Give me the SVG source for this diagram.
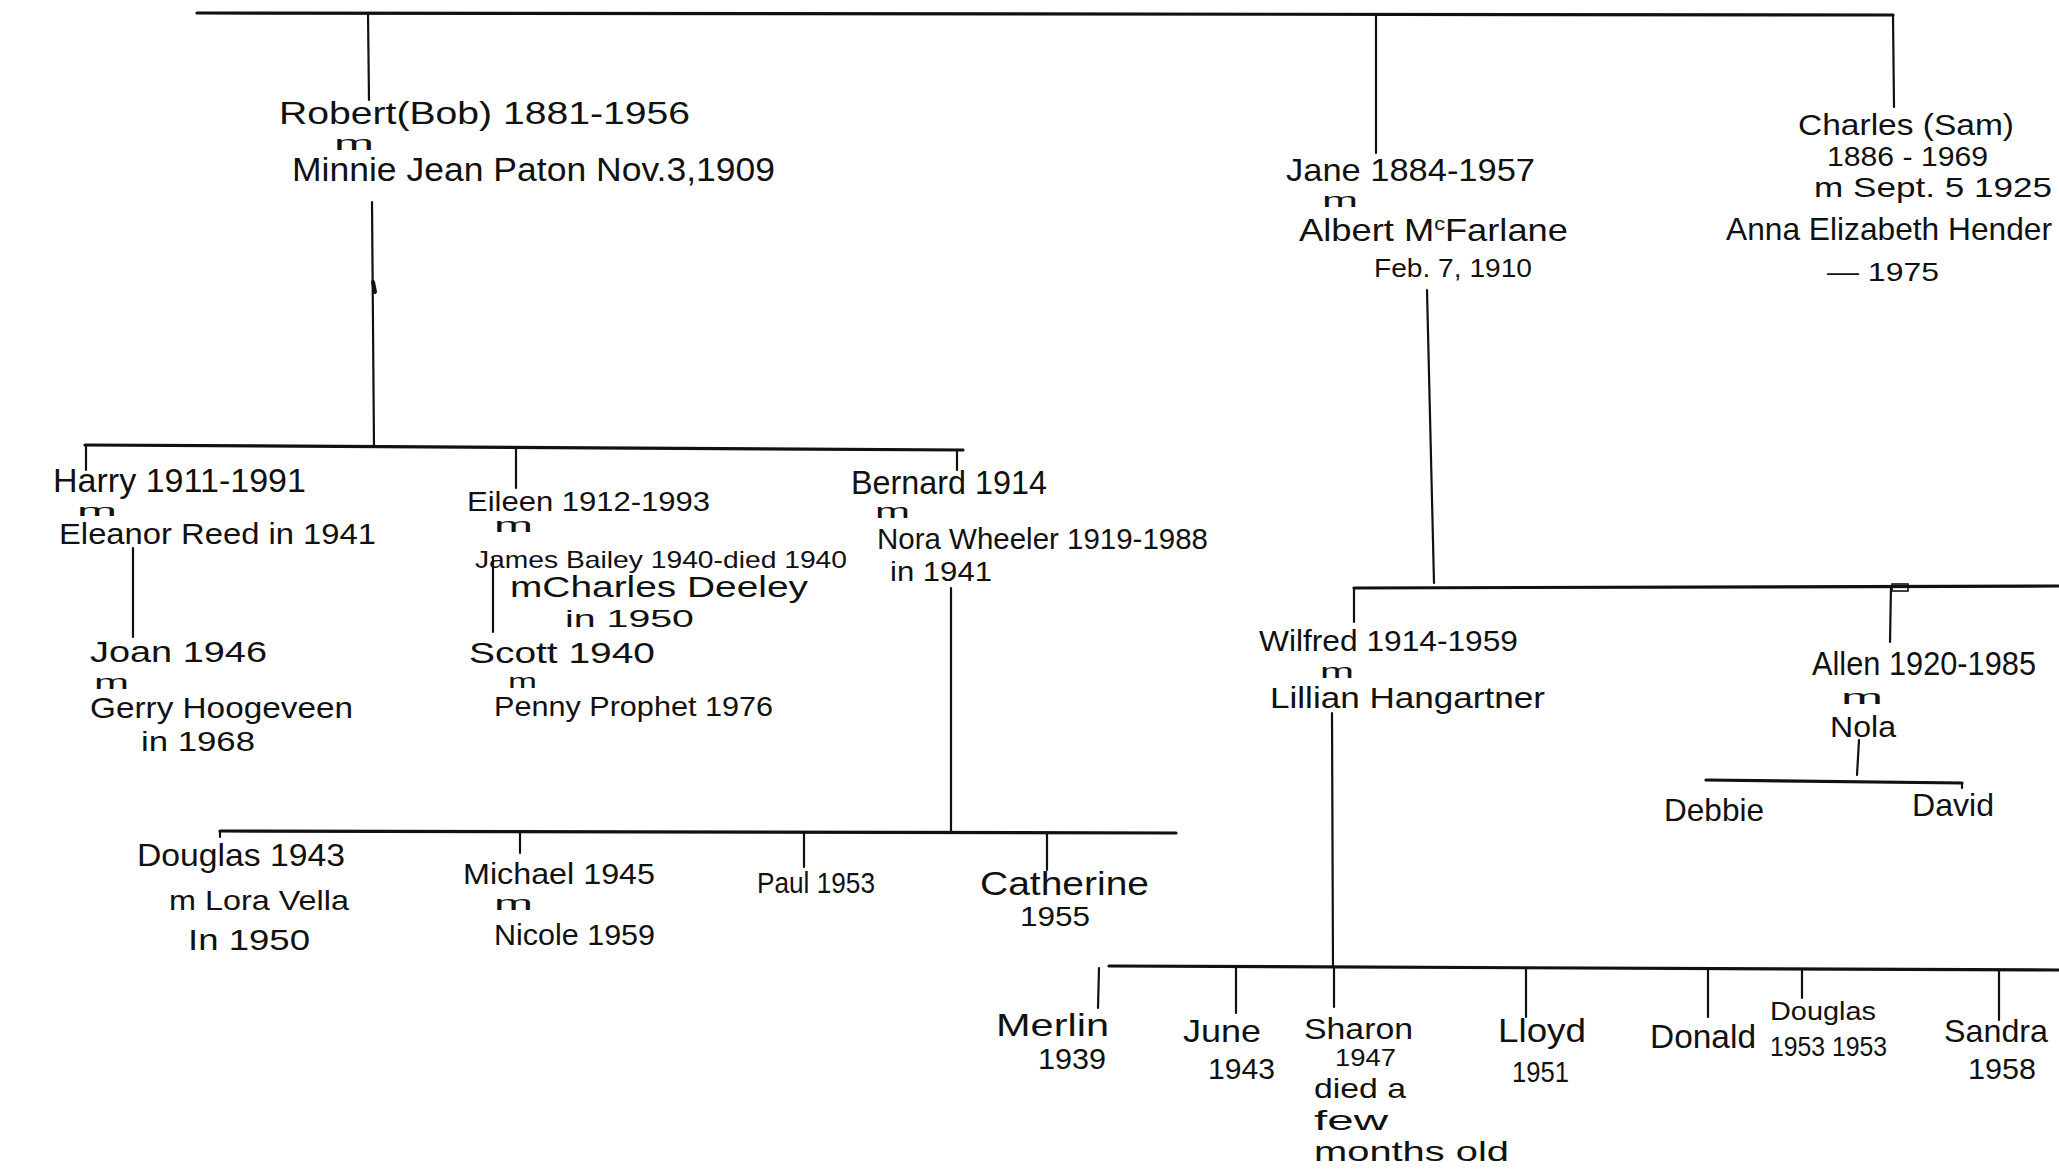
<svg xmlns="http://www.w3.org/2000/svg" width="2059" height="1170" viewBox="0 0 2059 1170">
<style>
text{font-family:"Liberation Sans Narrow","Liberation Sans",Arial,sans-serif;fill:#111;}
.m{font-size:20px;}
.c line,.c path,.c rect{stroke:#111;stroke-width:2.2;fill:none;stroke-linecap:round;}
.c .thick{stroke-width:3.2;}
</style>
<rect x="0" y="0" width="2059" height="1170" fill="#ffffff"/>
<g id="connectors" class="c">
  <line class="thick" x1="197" y1="13" x2="1893" y2="15"/>
  <line x1="368" y1="13" x2="369" y2="100"/>
  <line x1="1376" y1="14" x2="1376" y2="153"/>
  <line x1="1893" y1="15" x2="1894" y2="107"/>
  <line x1="372" y1="202" x2="374" y2="447"/>
  <line x1="373" y1="282" x2="375" y2="292" style="stroke-width:4"/>
  <line class="thick" x1="85" y1="445" x2="963" y2="450"/>
  <line x1="86" y1="445" x2="86" y2="470"/>
  <line x1="516" y1="447" x2="516" y2="488"/>
  <line x1="957" y1="450" x2="957" y2="470"/>
  <line x1="133" y1="548" x2="133" y2="637"/>
  <line x1="493" y1="557" x2="493" y2="632"/>
  <line x1="951" y1="588" x2="951" y2="831"/>
  <line class="thick" x1="220" y1="831" x2="1176" y2="833"/>
  <line x1="220" y1="831" x2="220" y2="837"/>
  <line x1="520" y1="832" x2="520" y2="853"/>
  <line x1="804" y1="833" x2="804" y2="867"/>
  <line x1="1047" y1="833" x2="1047" y2="870"/>
  <line x1="1427" y1="290" x2="1434" y2="583"/>
  <line class="thick" x1="1354" y1="588" x2="2059" y2="586"/>
  <line x1="1354" y1="588" x2="1354" y2="622"/>
  <line x1="1891" y1="586" x2="1890" y2="642"/>
  <rect x="1892" y="584" width="16" height="7" style="stroke-width:1.6"/>
  <line x1="1332" y1="713" x2="1333" y2="967"/>
  <line x1="1859" y1="740" x2="1857" y2="775"/>
  <line class="thick" x1="1706" y1="780" x2="1962" y2="783"/>
  <line x1="1962" y1="783" x2="1962" y2="788"/>
  <line class="thick" x1="1109" y1="966" x2="2059" y2="970"/>
  <line x1="1099" y1="968" x2="1098" y2="1008"/>
  <line x1="1236" y1="968" x2="1236" y2="1013"/>
  <line x1="1334" y1="968" x2="1334" y2="1007"/>
  <line x1="1526" y1="969" x2="1526" y2="1017"/>
  <line x1="1708" y1="969" x2="1708" y2="1017"/>
  <line x1="1802" y1="969" x2="1802" y2="998"/>
  <line x1="1999" y1="970" x2="1999" y2="1020"/>
</g>
<g id="robert">
  <text x="279" y="124" font-size="32" textLength="411" lengthAdjust="spacingAndGlyphs">Robert(Bob) 1881-1956</text>
  <text class="m" x="334" y="150" textLength="40" lengthAdjust="spacingAndGlyphs">m</text>
  <text x="292" y="181" font-size="34" textLength="483" lengthAdjust="spacingAndGlyphs">Minnie Jean Paton Nov.3,1909</text>
</g>
<g id="jane">
  <text x="1286" y="181" font-size="32" textLength="249" lengthAdjust="spacingAndGlyphs">Jane 1884-1957</text>
  <text class="m" x="1322" y="207" textLength="36" lengthAdjust="spacingAndGlyphs">m</text>
  <text x="1299" y="241" font-size="32" textLength="269" lengthAdjust="spacingAndGlyphs">Albert M<tspan font-size="19" dy="-11">c</tspan><tspan dy="11">Farlane</tspan></text>
  <text x="1374" y="277" font-size="26" textLength="158" lengthAdjust="spacingAndGlyphs">Feb. 7, 1910</text>
</g>
<g id="charles">
  <text x="1798" y="135" font-size="30" textLength="216" lengthAdjust="spacingAndGlyphs">Charles (Sam)</text>
  <text x="1827" y="166" font-size="28" textLength="161" lengthAdjust="spacingAndGlyphs">1886 - 1969</text>
  <text x="1814" y="197" font-size="28" textLength="238" lengthAdjust="spacingAndGlyphs">m  Sept. 5 1925</text>
  <text x="1726" y="240" font-size="32" textLength="326" lengthAdjust="spacingAndGlyphs">Anna Elizabeth Hender</text>
  <text x="1827" y="281" font-size="26" textLength="112" lengthAdjust="spacingAndGlyphs">— 1975</text>
</g>
<g id="harry">
  <text x="53" y="492" font-size="34" textLength="253" lengthAdjust="spacingAndGlyphs">Harry 1911-1991</text>
  <text x="77" y="516" font-size="17" textLength="40" lengthAdjust="spacingAndGlyphs">m</text>
  <text x="59" y="544" font-size="30" textLength="317" lengthAdjust="spacingAndGlyphs">Eleanor Reed in 1941</text>
</g>
<g id="joan">
  <text x="90" y="662" font-size="30" textLength="177" lengthAdjust="spacingAndGlyphs">Joan 1946</text>
  <text class="m" x="94" y="689" textLength="35" lengthAdjust="spacingAndGlyphs">m</text>
  <text x="90" y="718" font-size="30" textLength="263" lengthAdjust="spacingAndGlyphs">Gerry Hoogeveen</text>
  <text x="141" y="751" font-size="28" textLength="114" lengthAdjust="spacingAndGlyphs">in 1968</text>
</g>
<g id="eileen">
  <text x="467" y="511" font-size="28" textLength="243" lengthAdjust="spacingAndGlyphs">Eileen 1912-1993</text>
  <text class="m" x="494" y="532" textLength="39" lengthAdjust="spacingAndGlyphs">m</text>
  <text x="475" y="568" font-size="24" textLength="372" lengthAdjust="spacingAndGlyphs">James Bailey 1940-died 1940</text>
  <text x="510" y="597" font-size="30" textLength="298" lengthAdjust="spacingAndGlyphs">mCharles Deeley</text>
  <text x="565" y="627" font-size="24" textLength="129" lengthAdjust="spacingAndGlyphs">in 1950</text>
</g>
<g id="scott">
  <text x="469" y="663" font-size="30" textLength="186" lengthAdjust="spacingAndGlyphs">Scott 1940</text>
  <text class="m" x="508" y="688" textLength="29" lengthAdjust="spacingAndGlyphs">m</text>
  <text x="494" y="716" font-size="28" textLength="279" lengthAdjust="spacingAndGlyphs">Penny Prophet 1976</text>
</g>
<g id="bernard">
  <text x="851" y="494" font-size="34" textLength="196" lengthAdjust="spacingAndGlyphs">Bernard 1914</text>
  <text class="m" x="875" y="518" textLength="35" lengthAdjust="spacingAndGlyphs">m</text>
  <text x="877" y="549" font-size="30" textLength="331" lengthAdjust="spacingAndGlyphs">Nora Wheeler 1919-1988</text>
  <text x="890" y="581" font-size="28" textLength="102" lengthAdjust="spacingAndGlyphs">in 1941</text>
</g>
<g id="douglas1943">
  <text x="137" y="866" font-size="32" textLength="208" lengthAdjust="spacingAndGlyphs">Douglas 1943</text>
  <text x="169" y="910" font-size="28" textLength="180" lengthAdjust="spacingAndGlyphs">m Lora Vella</text>
  <text x="188" y="950" font-size="30" textLength="122" lengthAdjust="spacingAndGlyphs">In 1950</text>
</g>
<g id="michael">
  <text x="463" y="884" font-size="30" textLength="192" lengthAdjust="spacingAndGlyphs">Michael 1945</text>
  <text class="m" x="494" y="910" textLength="39" lengthAdjust="spacingAndGlyphs">m</text>
  <text x="494" y="945" font-size="30" textLength="161" lengthAdjust="spacingAndGlyphs">Nicole 1959</text>
</g>
<g id="paul">
  <text x="757" y="893" font-size="30" textLength="118" lengthAdjust="spacingAndGlyphs">Paul 1953</text>
</g>
<g id="catherine">
  <text x="980" y="895" font-size="34" textLength="169" lengthAdjust="spacingAndGlyphs">Catherine</text>
  <text x="1020" y="926" font-size="28" textLength="70" lengthAdjust="spacingAndGlyphs">1955</text>
</g>
<g id="wilfred">
  <text x="1259" y="651" font-size="30" textLength="259" lengthAdjust="spacingAndGlyphs">Wilfred 1914-1959</text>
  <text class="m" x="1320" y="678" textLength="34" lengthAdjust="spacingAndGlyphs">m</text>
  <text x="1270" y="708" font-size="30" textLength="275" lengthAdjust="spacingAndGlyphs">Lillian Hangartner</text>
</g>
<g id="allen">
  <text x="1812" y="675" font-size="34" textLength="224" lengthAdjust="spacingAndGlyphs">Allen 1920-1985</text>
  <text class="m" x="1841" y="704" textLength="42" lengthAdjust="spacingAndGlyphs">m</text>
  <text x="1830" y="737" font-size="30" textLength="66" lengthAdjust="spacingAndGlyphs">Nola</text>
</g>
<g id="debbie"><text x="1664" y="821" font-size="32" textLength="100" lengthAdjust="spacingAndGlyphs">Debbie</text></g>
<g id="david"><text x="1912" y="816" font-size="32" textLength="82" lengthAdjust="spacingAndGlyphs">David</text></g>
<g id="merlin">
  <text x="996" y="1036" font-size="32" textLength="113" lengthAdjust="spacingAndGlyphs">Merlin</text>
  <text x="1038" y="1069" font-size="30" textLength="68" lengthAdjust="spacingAndGlyphs">1939</text>
</g>
<g id="june">
  <text x="1183" y="1042" font-size="32" textLength="78" lengthAdjust="spacingAndGlyphs">June</text>
  <text x="1208" y="1079" font-size="30" textLength="67" lengthAdjust="spacingAndGlyphs">1943</text>
</g>
<g id="sharon">
  <text x="1304" y="1039" font-size="30" textLength="109" lengthAdjust="spacingAndGlyphs">Sharon</text>
  <text x="1335" y="1066" font-size="24" textLength="61" lengthAdjust="spacingAndGlyphs">1947</text>
  <text x="1314" y="1098" font-size="28" textLength="92" lengthAdjust="spacingAndGlyphs">died a</text>
  <text x="1314" y="1130" font-size="28" textLength="74" lengthAdjust="spacingAndGlyphs">few</text>
  <text x="1314" y="1161" font-size="28" textLength="195" lengthAdjust="spacingAndGlyphs">months old</text>
</g>
<g id="lloyd">
  <text x="1498" y="1042" font-size="34" textLength="88" lengthAdjust="spacingAndGlyphs">Lloyd</text>
  <text x="1512" y="1082" font-size="30" textLength="57" lengthAdjust="spacingAndGlyphs">1951</text>
</g>
<g id="donald">
  <text x="1650" y="1048" font-size="34" textLength="106" lengthAdjust="spacingAndGlyphs">Donald</text>
</g>
<g id="douglas1953">
  <text x="1770" y="1020" font-size="26" textLength="106" lengthAdjust="spacingAndGlyphs">Douglas</text>
  <text x="1770" y="1056" font-size="28" textLength="117" lengthAdjust="spacingAndGlyphs">1953 1953</text>
</g>
<g id="sandra">
  <text x="1944" y="1042" font-size="32" textLength="104" lengthAdjust="spacingAndGlyphs">Sandra</text>
  <text x="1968" y="1079" font-size="30" textLength="68" lengthAdjust="spacingAndGlyphs">1958</text>
</g>
</svg>
